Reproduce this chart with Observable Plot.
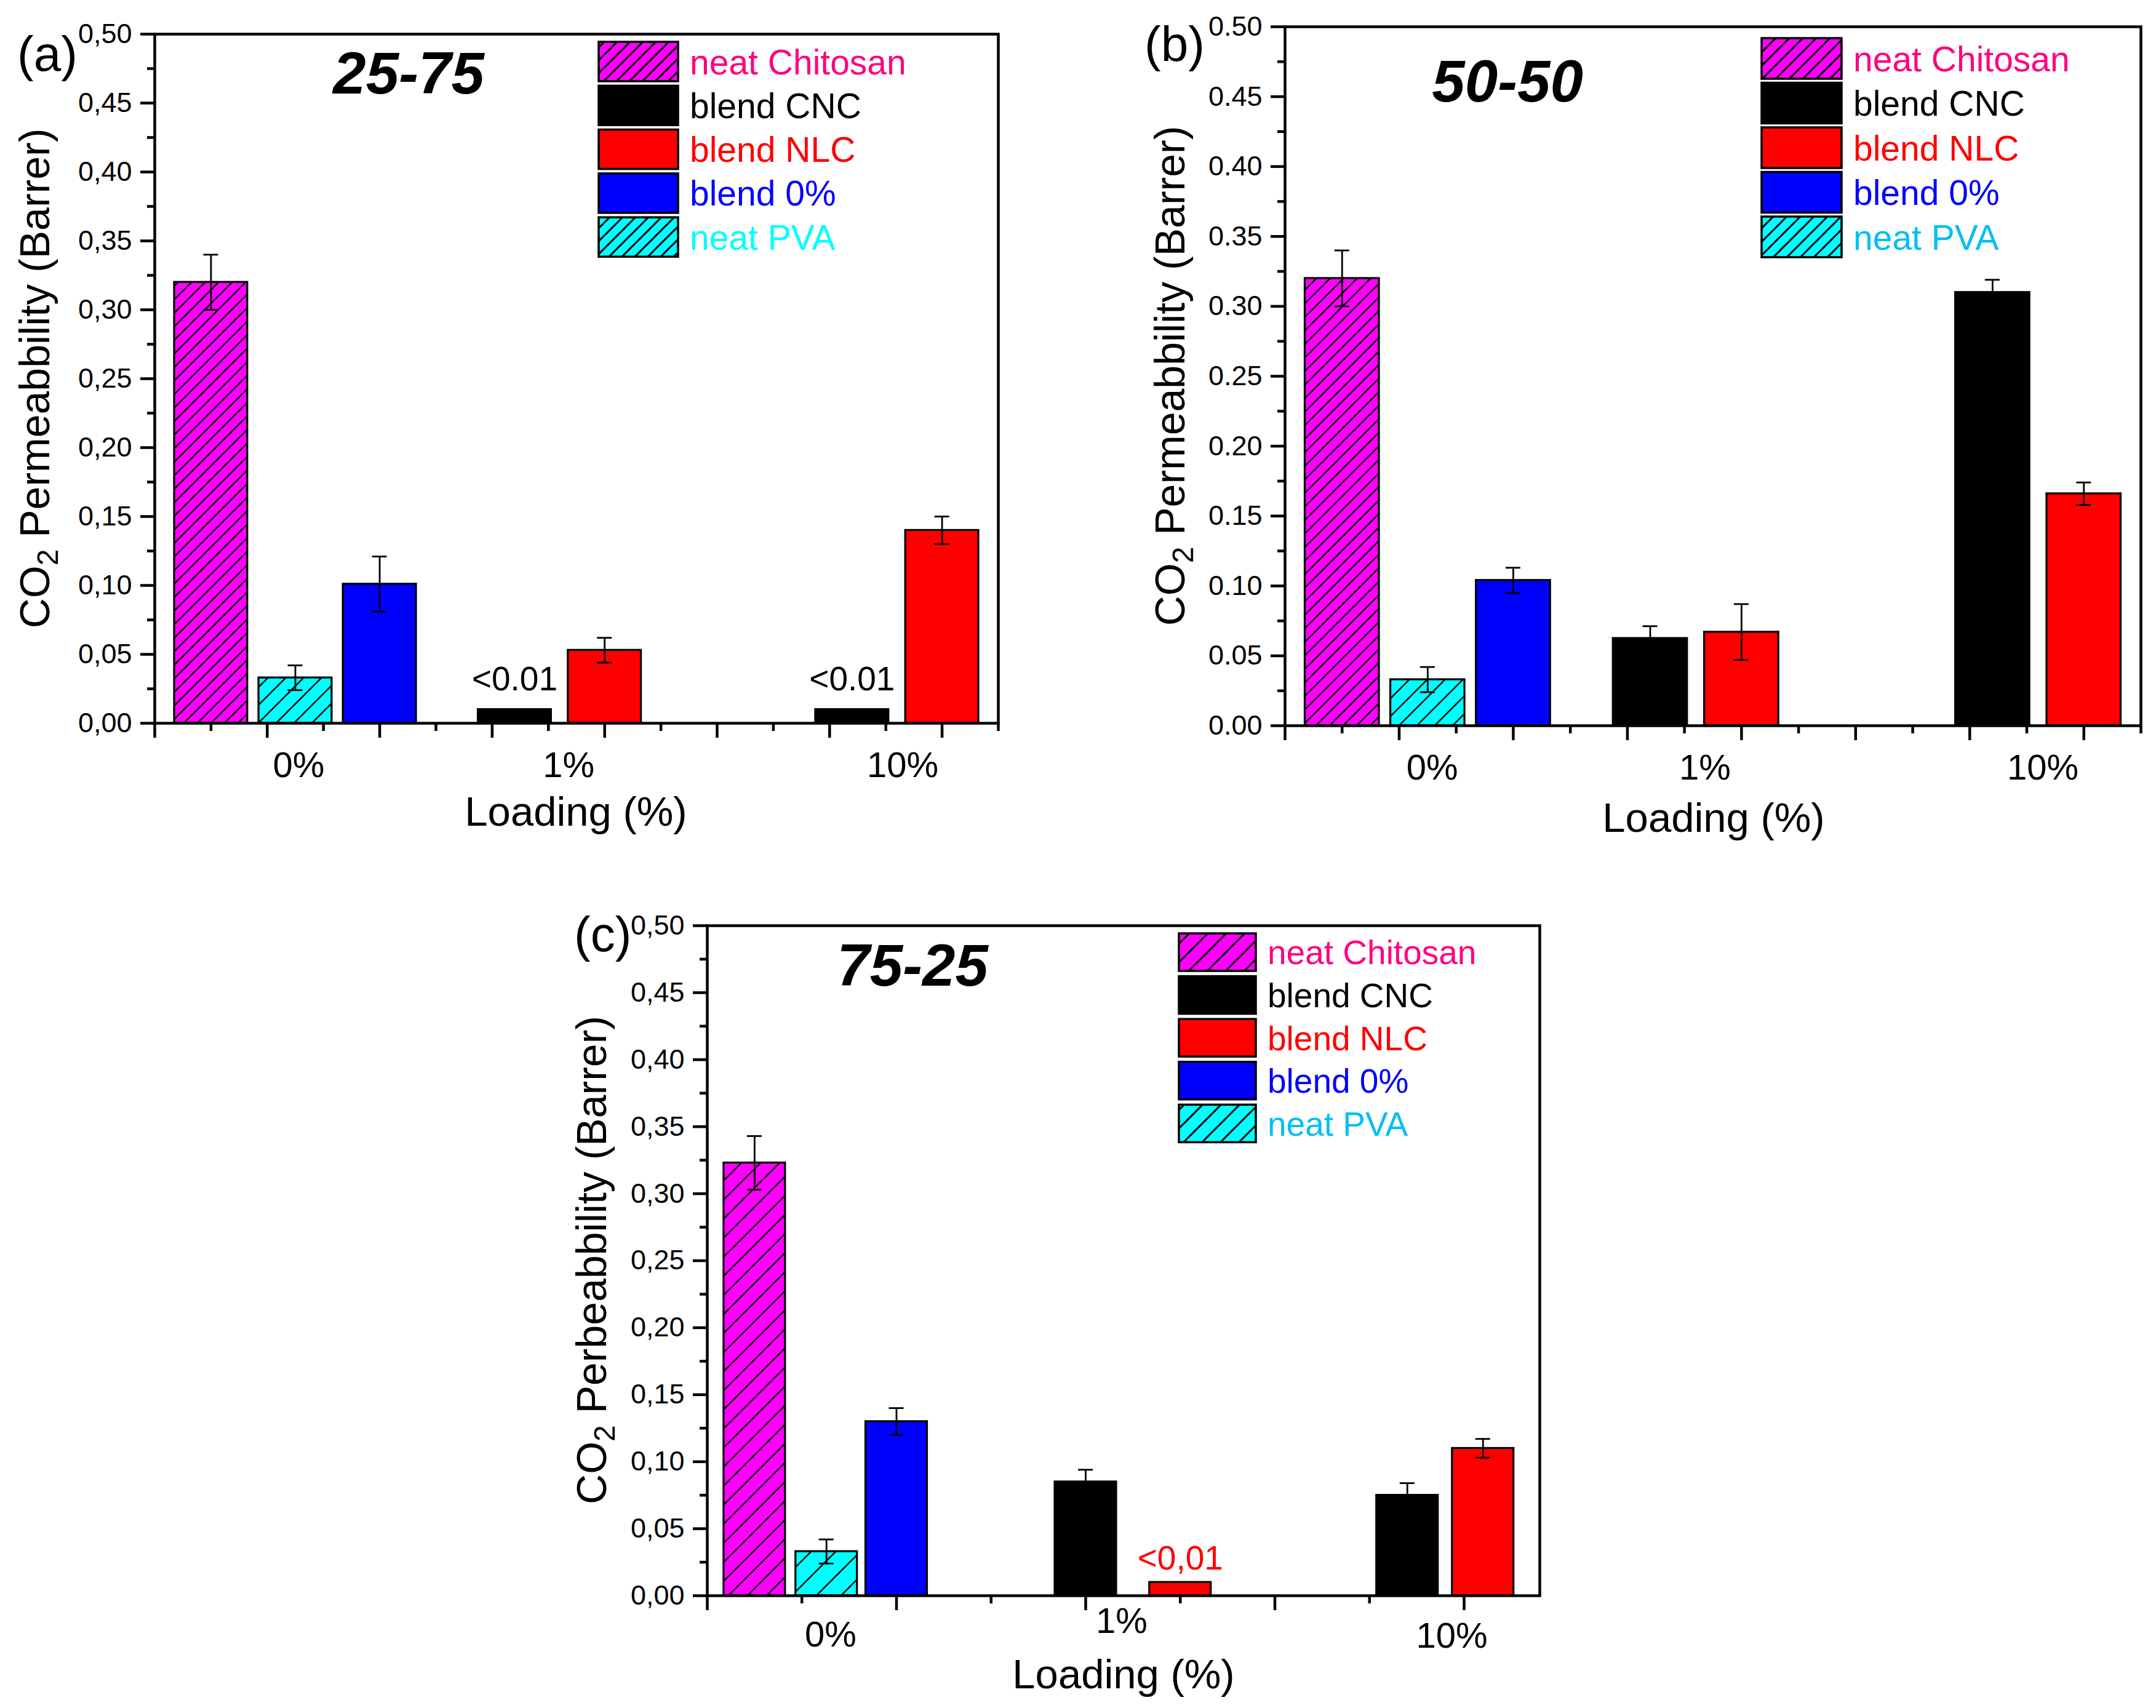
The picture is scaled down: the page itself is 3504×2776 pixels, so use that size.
<!DOCTYPE html>
<html>
<head>
<meta charset="utf-8">
<script src="https://cdn.jsdelivr.net/npm/d3@7"></script>
<script src="https://cdn.jsdelivr.net/npm/@observablehq/plot@0.6"></script>
<style>
  body { margin: 0; background: #fff; }
  #fig { position: relative; width: 3504px; height: 2776px; overflow: hidden; background: #fff; }
  .panel { position: absolute; }
  #overlay { position: absolute; left: 0; top: 0; pointer-events: none; }
</style>
</head>
<body>
<svg width="0" height="0" style="position:absolute"><defs id="pats"></defs></svg>
<div id="fig"></div>
<script>
const FONT = "'Liberation Sans', Arial, sans-serif";

// categories
const loadings = ["0%", "1%", "10%"];
const neatSeries = ["neat Chitosan", "neat PVA", "blend 0%"];
const legendOrder = ["neat Chitosan", "blend CNC", "blend NLC", "blend 0%", "neat PVA"];

// 25-75 blend (values at 0%, then CNC / NLC at 1% and 10%)
const neat2575 = [0.320, 0.033, 0.101];
const neatErr2575 = [0.020, 0.009, 0.020];
const cnc2575 = [0.010, 0.010];
const cncErr2575 = [null, null];
const cncNote2575 = ["<0.01", "<0.01"];
const nlc2575 = [0.053, 0.140];
const nlcErr2575 = [0.009, 0.010];
const nlcNote2575 = [null, null];

// 50-50 blend
const neat5050 = [0.320, 0.033, 0.104];
const neatErr5050 = [0.020, 0.009, 0.009];
const cnc5050 = [0.0625, 0.310];
const cncErr5050 = [0.0087, 0.009];
const cncNote5050 = [null, null];
const nlc5050 = [0.067, 0.166];
const nlcErr5050 = [0.020, 0.008];
const nlcNote5050 = [null, null];

// 75-25 blend
const neat7525 = [0.323, 0.033, 0.130];
const neatErr7525 = [0.020, 0.009, 0.010];
const cnc7525 = [0.085, 0.075];
const cncErr7525 = [0.009, 0.009];
const cncNote7525 = [null, null];
const nlc7525 = [0.010, 0.110];
const nlcErr7525 = [null, 0.007];
const nlcNote7525 = ["<0,01", null];

const yMajor = d3.range(0, 0.5001, 0.05);
const yMinor = d3.range(0.025, 0.5, 0.05);

const panels = [
  {
    id: "a", ratio: "25-75", ylabel: " Permeabbility (Barrer)", dec: ",",
    neat: neat2575, neatErr: neatErr2575, cnc: cnc2575, cncErr: cncErr2575, cncNote: cncNote2575,
    nlc: nlc2575, nlcErr: nlcErr2575, nlcNote: nlcNote2575, noteColor: "#000", noteGap: 31,
    left: 0, top: 0, width: 1700, height: 1400, mt: 55, mr: 78, mb: 225, ml: 251,
    xMax: 7.5, neatPos: [0.5, 1.25, 2.0], cncPos: [3.2, 6.2], nlcPos: [4.0, 7.0],
    majorX: d3.range(0, 7.6, 1), minorX: d3.range(0.5, 7.6, 1),
    labelShift: [0.03, 0.08, 0.05], labelDy: [87, 87, 87],
    hatch: [22, 29], legHatch: 21,
    title: { x: 664, y: 152 }, letter: { x: 28, y: 115 },
    xTitle: { x: 936, y: 1342 }, yTitle: { x: 80, y: 615 },
    legend: { x: 973, y: 68, w: 129, h: 64, pitch: 71.3, tx: 1121, fs: 57 },
    pvaText: "#00FFFF"
  },
  {
    id: "b", ratio: "50-50", ylabel: " Permeabbility (Barrer)", dec: ".",
    neat: neat5050, neatErr: neatErr5050, cnc: cnc5050, cncErr: cncErr5050, cncNote: cncNote5050,
    nlc: nlc5050, nlcErr: nlcErr5050, nlcNote: nlcNote5050, noteColor: "#000", noteGap: 31,
    left: 1800, top: 0, width: 1704, height: 1400, mt: 43, mr: 25, mb: 221, ml: 288,
    xMax: 7.5, neatPos: [0.5, 1.25, 2.0], cncPos: [3.2, 6.2], nlcPos: [4.0, 7.0],
    majorX: d3.range(0, 7.6, 1), minorX: d3.range(0.5, 7.6, 1),
    labelShift: [0.04, 0.08, 0.04], labelDy: [87, 87, 87],
    hatch: [22, 29], legHatch: 22,
    title: { x: 2450, y: 165 }, letter: { x: 1860, y: 99 },
    xTitle: { x: 2785, y: 1352 }, yTitle: { x: 1925, y: 611 },
    legend: { x: 2863, y: 62, w: 130, h: 66, pitch: 72.5, tx: 3012, fs: 57 },
    pvaText: "#00BFF3"
  },
  {
    id: "c", ratio: "75-25", ylabel: " Perbeabbility (Barrer)", dec: ",",
    neat: neat7525, neatErr: neatErr7525, cnc: cnc7525, cncErr: cncErr7525, cncNote: cncNote7525,
    nlc: nlc7525, nlcErr: nlcErr7525, nlcNote: nlcNote7525, noteColor: "#FF0000", noteGap: 21,
    left: 900, top: 1420, width: 1700, height: 1356, mt: 84, mr: 98, mb: 183, ml: 249,
    xMax: 8.8, neatPos: [0.5, 1.26, 2.0], cncPos: [4.0, 7.4], nlcPos: [5.0, 8.2],
    majorX: d3.range(0, 8.8, 2), minorX: d3.range(1, 8.8, 2),
    labelShift: [0.05, -0.12, 0.07], labelDy: [82, 60, 84],
    hatch: [31, 40], legHatch: 30,
    title: { x: 1483, y: 1602 }, letter: { x: 933, y: 1546 },
    xTitle: { x: 1826, y: 2744 }, yTitle: { x: 985, y: 2048 },
    legend: { x: 1916, y: 1517, w: 125, h: 61, pitch: 69.6, tx: 2060, fs: 55 },
    pvaText: "#00BFF3"
  }
];

const solid = { "blend CNC": "#000000", "blend NLC": "#FF0000", "blend 0%": "#0000FF" };
const base = { "neat Chitosan": "#FF00FF", "neat PVA": "#00FFFF" };

function addHatch(id, color, s, w) {
  const pat = d3.select("#pats").append("pattern")
    .attr("id", id).attr("patternUnits", "userSpaceOnUse")
    .attr("width", s).attr("height", s);
  pat.append("rect").attr("width", s).attr("height", s).attr("fill", color);
  pat.append("path")
    .attr("d", `M${-s / 4},${s / 4}L${s / 4},${-s / 4}M0,${s}L${s},0M${3 * s / 4},${5 * s / 4}L${5 * s / 4},${3 * s / 4}`)
    .attr("stroke", "#000").attr("stroke-width", w);
}

function fillFor(series, p, legend) {
  if (solid[series]) return solid[series];
  const key = series === "neat Chitosan" ? "chit" : "pva";
  return `url(#h-${p.id}-${key}${legend ? "-leg" : ""})`;
}

function rowsFor(p) {
  const rows = [];
  neatSeries.forEach((s, i) => rows.push({ series: s, loading: "0%", value: p.neat[i], err: p.neatErr[i], note: null, x: p.neatPos[i] }));
  ["1%", "10%"].forEach((l, j) => {
    rows.push({ series: "blend CNC", loading: l, value: p.cnc[j], err: p.cncErr[j], note: p.cncNote[j], x: p.cncPos[j] });
    rows.push({ series: "blend NLC", loading: l, value: p.nlc[j], err: p.nlcErr[j], note: p.nlcNote[j], x: p.nlcPos[j] });
  });
  return rows;
}

const fig = d3.select("#fig");

for (const p of panels) {
  addHatch(`h-${p.id}-chit`, base["neat Chitosan"], p.hatch[0], 2.4);
  addHatch(`h-${p.id}-pva`, base["neat PVA"], p.hatch[1], 2.4);
  addHatch(`h-${p.id}-chit-leg`, base["neat Chitosan"], p.legHatch, 3);
  addHatch(`h-${p.id}-pva-leg`, base["neat PVA"], p.legHatch, 3);

  const rows = rowsFor(p);
  const bw = 0.65;
  const unitPx = (p.width - p.ml - p.mr) / p.xMax;
  const cap = 12 / unitPx;
  const withErr = rows.filter(r => r.err != null);
  const caps = withErr.flatMap(r => [{ x: r.x, y: r.value + r.err }, { x: r.x, y: r.value - r.err }]);
  const fmt = d => d.toFixed(2).replace(".", p.dec);

  const groupCenter = loadings.map(l => d3.mean(rows.filter(r => r.loading === l), r => r.x));

  const marks = [
    ...["neat Chitosan", "neat PVA", "blend 0%", "blend CNC", "blend NLC"].map(s =>
      Plot.rectY(rows.filter(r => r.series === s), {
        x1: r => r.x - bw / 2, x2: r => r.x + bw / 2, y1: 0, y2: "value",
        fill: fillFor(s, p, false), stroke: "#000", strokeWidth: 3.2
      })
    ),
    Plot.ruleX(withErr, { x: "x", y1: r => r.value - r.err, y2: r => r.value + r.err, stroke: "#000", strokeWidth: 2.8 }),
    Plot.ruleY(caps, { y: "y", x1: r => r.x - cap, x2: r => r.x + cap, stroke: "#000", strokeWidth: 2.8 }),
    Plot.text(rows.filter(r => r.note), {
      x: "x", y: "value", text: "note", dy: -p.noteGap, lineAnchor: "bottom",
      fontSize: 55, fill: p.noteColor
    }),
    Plot.axisY({ ticks: yMajor, tickSize: 23, tickPadding: 14, tickFormat: fmt, fontSize: 45, strokeWidth: 4.5, label: null }),
    Plot.axisY({ ticks: yMinor, tickSize: 12, tickFormat: () => "", strokeWidth: 4.5, label: null }),
    Plot.axisX({ ticks: p.majorX, tickSize: 24, tickFormat: () => "", strokeWidth: 4.5, label: null }),
    Plot.axisX({ ticks: p.minorX, tickSize: 13, tickFormat: () => "", strokeWidth: 4.5, label: null }),
    ...loadings.map((l, i) =>
      Plot.text([l], {
        x: () => groupCenter[i] + p.labelShift[i], frameAnchor: "bottom", dy: p.labelDy[i],
        text: d => d, lineAnchor: "bottom", fontSize: 58, fill: "#000"
      })
    ),
    Plot.frame({ stroke: "#000", strokeWidth: 4.5 })
  ];

  const chart = Plot.plot({
    width: p.width, height: p.height,
    marginTop: p.mt, marginRight: p.mr, marginBottom: p.mb, marginLeft: p.ml,
    x: { domain: [0, p.xMax], label: null },
    y: { domain: [0, 0.5], label: null },
    style: { fontFamily: FONT, fontSize: "45px", background: "transparent", overflow: "visible", color: "#000" },
    marks
  });

  fig.append("div").attr("class", "panel")
    .style("left", p.left + "px").style("top", p.top + "px")
    .node().appendChild(chart);
}

// titles, panel letters, axis titles and legends
const ov = fig.append("svg").attr("id", "overlay").attr("width", 3504).attr("height", 2776)
  .style("font-family", FONT);

const legendText = { "neat Chitosan": "#FF0080", "blend CNC": "#000000", "blend NLC": "#FF0000", "blend 0%": "#0000FF" };

for (const p of panels) {
  ov.append("text").attr("x", p.title.x).attr("y", p.title.y).attr("text-anchor", "middle")
    .attr("font-size", 96).attr("font-weight", "bold").attr("font-style", "italic").text(p.ratio);

  ov.append("text").attr("x", p.letter.x).attr("y", p.letter.y).attr("font-size", 80).text(`(${p.id})`);

  ov.append("text").attr("x", p.xTitle.x).attr("y", p.xTitle.y).attr("text-anchor", "middle")
    .attr("font-size", 67).text("Loading (%)");

  const yt = ov.append("text").attr("transform", `translate(${p.yTitle.x},${p.yTitle.y}) rotate(-90)`)
    .attr("text-anchor", "middle").attr("font-size", 68);
  yt.append("tspan").text("CO");
  yt.append("tspan").attr("font-size", 48).attr("dy", 14).text("2");
  yt.append("tspan").attr("dy", -14).text(p.ylabel);

  const L = p.legend;
  legendOrder.forEach((s, i) => {
    const y0 = L.y + i * L.pitch;
    ov.append("rect").attr("x", L.x).attr("y", y0).attr("width", L.w).attr("height", L.h)
      .attr("fill", fillFor(s, p, true)).attr("stroke", "#000").attr("stroke-width", 3.5);
    ov.append("text").attr("x", L.tx).attr("y", y0 + L.h / 2 + L.fs * 0.36)
      .attr("font-size", L.fs)
      .attr("fill", s === "neat PVA" ? p.pvaText : legendText[s]).text(s);
  });
}
</script>
</body>
</html>
